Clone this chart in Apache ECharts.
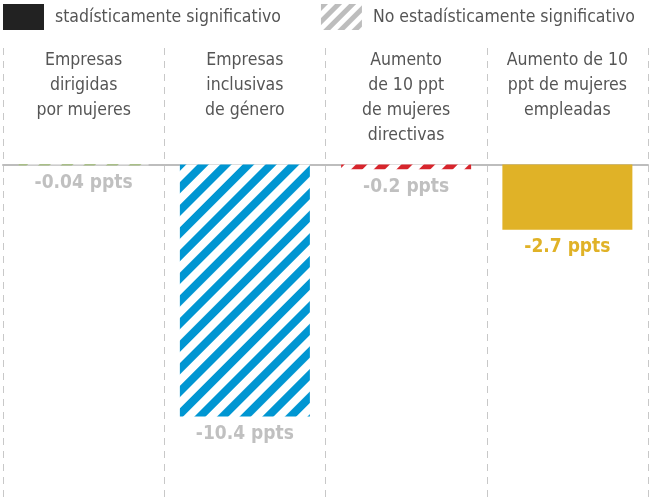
<!DOCTYPE html>
<html>
<head>
<meta charset="utf-8">
<script src="https://cdn.jsdelivr.net/npm/echarts@6/dist/echarts.min.js"></script>
<style>
	html, body { margin: 0; padding: 0; background: #fff; }
	#chart { width: 649px; height: 499px; }
</style>
</head>
<body>
<div id="chart"></div>
<script>
var categories = [
	'Empresas\ndirigidas\npor mujeres',
	'Empresas\ninclusivas\nde género',
	'Aumento\nde 10 ppt\nde mujeres\ndirectivas',
	'Aumento de 10\nppt de mujeres\nempleadas'
];
var values = [-0.04, -10.4, -0.2, -2.7];
var significant = [false, false, false, true];
var legendNames = ['stadísticamente significativo', 'No estadísticamente significativo'];

// estilos
var barColors = ['#74a032', '#0096d2', '#d7252c', '#e0b227'];
var labelGrey = '#c0c0c0';
var fontName = '"DejaVu Sans Condensed", "Liberation Sans Narrow", Roboto, sans-serif';

function stripes(color, w)
{
	return {
		symbol: 'rect',
		symbolSize: 1,
		dashArrayX: [1, 0],
		dashArrayY: [w, w],
		rotation: -Math.PI / 4,
		color: color
	};
}

function seriesData(wantSig)
{
	return values.map(function (v, i) {
		if (significant[i] !== wantSig) return '-';
		var item = { value: v };
		if (wantSig) {
			item.itemStyle = { color: barColors[i] };
			item.label = { color: barColors[i] };
		} else {
			item.itemStyle = { color: '#fff', decal: stripes(barColors[i], 8) };
			item.label = { color: labelGrey };
		}
		return item;
	});
}

var chart = echarts.init(document.getElementById('chart'));

var labelStyle = {
	show: true,
	position: 'bottom',
	distance: 8,
	fontFamily: fontName,
	fontSize: 19,
	fontWeight: 'bold',
	formatter: function (p) { return p.value + ' ppts'; }
};

option = {
	animation: false,
	legend: {
		orient: 'horizontal',
		left: 3,
		top: 4,
		padding: 0,
		width: 646,
		itemWidth: 41,
		itemHeight: 26,
		itemGap: 40,
		selectedMode: false,
		textStyle: { fontFamily: fontName, fontSize: 17.5, color: '#555', padding: [2, 0, 0, 6] },
		data: [
			{ name: legendNames[0], icon: 'rect', itemStyle: { color: '#222' } },
			{ name: legendNames[1], icon: 'rect', itemStyle: { color: '#fff', decal: stripes('#bdbdbd', 5) } }
		]
	},
	grid: {
		left: 3,
		right: 1,
		top: 48,
		bottom: 0,
		containLabel: false
	},
	xAxis: [
		{
			type: 'category',
			data: categories,
			axisLine: { show: true, onZero: true, lineStyle: { color: '#bdbdbd', width: 2 } },
			axisTick: { show: false },
			axisLabel: { show: false },
			splitLine: { show: true, lineStyle: { color: '#c8c8c8', type: [7, 6], width: 1 } }
		},
		{
			type: 'category',
			position: 'top',
			data: categories,
			axisLine: { show: false, onZero: false },
			axisTick: { show: false },
			splitLine: { show: false },
			axisLabel: {
				inside: true,
				margin: 0,
				interval: 0,
				verticalAlign: 'top',
				align: 'center',
				fontFamily: fontName,
				fontSize: 17.5,
				lineHeight: 25,
				color: '#555'
			}
		}
	],
	yAxis: {
		type: 'value',
		min: -13.8,
		max: 4.8,
		show: false,
		splitLine: { show: false }
	},
	series: [
		{
			name: legendNames[0],
			type: 'bar',
			barWidth: 130,
			barGap: '-100%',
			label: labelStyle,
			itemStyle: { color: '#222' },
			data: seriesData(true)
		},
		{
			name: legendNames[1],
			type: 'bar',
			barWidth: 130,
			barGap: '-100%',
			label: labelStyle,
			itemStyle: { color: '#bdbdbd' },
			data: seriesData(false)
		}
	]
};

chart.setOption(option);
</script>
</body>
</html>
